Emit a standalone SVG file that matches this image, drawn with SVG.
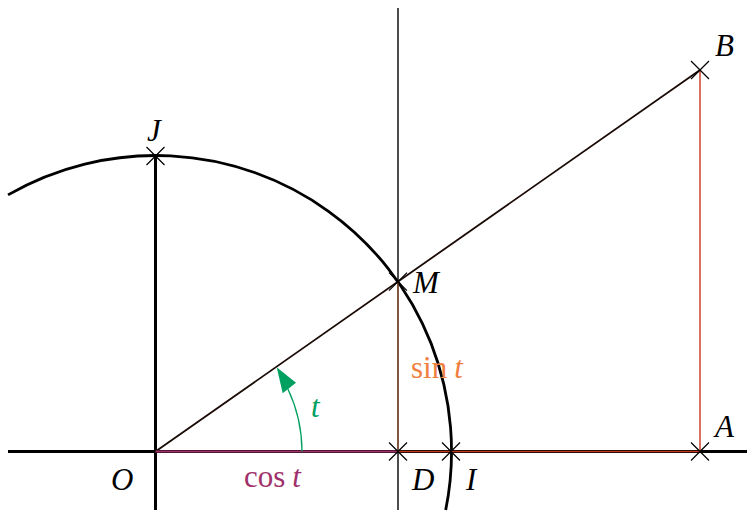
<svg xmlns="http://www.w3.org/2000/svg" width="755" height="519" viewBox="0 0 755 519">
<style>
.lbl{font-family:"Liberation Serif",serif;font-style:italic;font-size:31px;fill:#000}
.up{font-family:"Liberation Serif",serif;font-size:31px}
.cr{stroke:#000;stroke-width:1.2;fill:none}
</style>
<rect width="755" height="519" fill="#fff"/>
<g id="connectors" fill="none">
<path id="circle" d="M8,194.9 A296,296 0 0 1 445.7,510" stroke="#000" stroke-width="2.8"/>
<line id="xaxis" x1="8" y1="451.5" x2="747" y2="451.5" stroke="#000" stroke-width="3"/>
<line id="yaxis" x1="155.5" y1="156" x2="155.5" y2="510" stroke="#000" stroke-width="3"/>
<line id="vline" x1="398" y1="8" x2="398" y2="510" stroke="#000" stroke-width="1.4"/>
<line id="OB" x1="155.5" y1="451.5" x2="700" y2="70" stroke="#1a0a05" stroke-width="1.8"/>
<line id="cos" x1="155.5" y1="451.5" x2="398" y2="451.5" stroke="#a0306a" stroke-width="2"/>
<line id="DA" x1="398" y1="451.5" x2="700" y2="451.5" stroke="#c0381e" stroke-width="1.6"/>
<line id="sin" x1="398" y1="281.7" x2="398" y2="451.5" stroke="#c86a30" stroke-width="0.8"/>
<line id="AB" x1="700" y1="451.5" x2="700" y2="70" stroke="#d0402a" stroke-width="1.5"/>
<path id="angle" d="M302,451.5 A146.5,146.5 0 0 0 287.8,388.7" stroke="#00a060" stroke-width="1.3"/>
<polygon points="276.7,367.3 282.7,393.3 296,382.7" fill="#00a060"/>
</g>
<g id="J"><path class="cr" d="M146.5,147 l18,18 M164.5,147 l-18,18"/><text class="lbl" x="147" y="141">J</text></g>
<g id="M"><path class="cr" d="M389,272.7 l18,18 M407,272.7 l-18,18"/><text class="lbl" x="413" y="293">M</text></g>
<g id="D"><path class="cr" d="M389,442.5 l18,18 M407,442.5 l-18,18"/><text class="lbl" x="412" y="490">D</text></g>
<g id="I"><path class="cr" d="M442,442.5 l18,18 M460,442.5 l-18,18"/><text class="lbl" x="466" y="490">I</text></g>
<g id="A"><path class="cr" d="M691,442.5 l18,18 M709,442.5 l-18,18"/><text class="lbl" x="715" y="437">A</text></g>
<g id="B"><path class="cr" d="M691,61 l18,18 M709,61 l-18,18"/><text class="lbl" x="715" y="56">B</text></g>
<g id="O"><text class="lbl" x="111" y="490">O</text></g>
<g id="labels">
<text x="244" y="487" class="up" fill="#a0306a">cos<tspan font-style="italic" dx="7">t</tspan></text>
<text x="411" y="378" class="up" fill="#f08040">sin<tspan font-style="italic" dx="7">t</tspan></text>
<text x="311" y="417" class="lbl" style="fill:#00a060">t</text>
</g>
</svg>
